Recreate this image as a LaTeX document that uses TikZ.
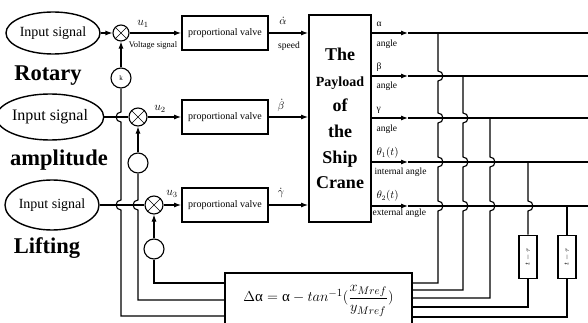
\documentclass[tikz,border=0pt]{standalone}
\usepackage{fontspec}
\setmainfont{Liberation Serif}
\usetikzlibrary{positioning,arrows.meta,shapes.geometric}

\begin{document}
\begin{tikzpicture}[x=1pt,y=-1pt,line width=1.1pt,>={Latex[length=7pt,width=5pt]},
    InSignal/.style={draw, ellipse, line width=1.4pt, inner sep=0pt},
    SumJoint/.style={draw, circle, minimum size=18pt, inner sep=0pt,
      path picture={\draw[line width=0.6pt] (path picture bounding box.north west) -- (path picture bounding box.south east)
        (path picture bounding box.north east) -- (path picture bounding box.south west);}},
    Gain/.style={draw, circle, minimum size=20pt, inner sep=0pt, font=\fontsize{7}{8}\selectfont},
    Valve/.style={draw, line width=1.8pt, minimum width=86pt, minimum height=34pt, font=\fontsize{10}{12}\selectfont},
    Tag/.style={font=\fontsize{9.5}{11}\selectfont, inner sep=0pt, anchor=west},
    Delay/.style={draw, line width=1.8pt, rotate=90, minimum width=43pt, minimum height=18pt, inner sep=0pt, font=\fontsize{7}{8}\selectfont},
    Title/.style={font=\fontsize{22.5}{26}\selectfont\bfseries}]
  \useasboundingbox (0,0) rectangle (588,323);
  \clip (0,0) rectangle (588,323);

  \node[InSignal, minimum width=88pt, minimum height=42pt, font=\fontsize{14}{16}\selectfont] (in1) at (53,33) {Input signal};
  \node[InSignal, minimum width=94pt, minimum height=46pt, font=\fontsize{16}{18}\selectfont] (in2) at (50,117) {Input signal};
  \node[InSignal, minimum width=90pt, minimum height=50pt, font=\fontsize{14}{16}\selectfont] (in3) at (52,205) {Input signal};
  \node[Title] (rotary) at (48,76) {Rotary};
  \node[Title] (amplitude) at (59,160) {amplitude};
  \node[Title] (lifting) at (47,248) {Lifting};

  \node[SumJoint, minimum size=16pt] (s1) at (121,33) {};
  \node[SumJoint] (s2) at (138,117) {};
  \node[SumJoint] (s3) at (154,205) {};
  \node[Gain] (k1) at (121,78) {k};
  \node[Gain] (k2) at (138,163) {};
  \node[Gain] (k3) at (154,249) {};

  \node[Valve] (pv1) at (225,33) {proportional valve};
  \node[Valve] (pv2) at (225,117) {proportional valve};
  \node[Valve] (pv3) at (225,205) {proportional valve};

  \node[draw, line width=1.8pt, minimum width=62pt, minimum height=207pt, align=center,
    font=\fontsize{18}{25.6}\selectfont\bfseries] (crane) at (340,118.5)
    {The\\{\fontsize{14}{25.6}\selectfont Payload}\\of\\the\\Ship\\Crane};
  \node[draw, line width=1.8pt, minimum width=187pt, minimum height=56pt, font=\fontsize{15}{17}\selectfont] (dbox) at (318.5,301)
    {$\Delta\mbox{α} = \mbox{α} - tan^{-1}(\displaystyle\frac{x_{Mref}}{y_{Mref}})$};
  \node[Delay] (tau1) at (528,257) {$t-\tau$};
  \node[Delay] (tau2) at (567,257) {$t-\tau$};

  \draw[->] (in1) -- (s1);
  \draw (in2) -- (s2);
  \draw (in3) -- (s3);
  \draw[->] (s1) -- (pv1);
  \draw[->] (s2) -- (pv2);
  \draw[->] (s3) -- (pv3);
  \draw[->] (pv1) -- (pv1 -| crane.west);
  \draw[->] (pv2) -- (pv2 -| crane.west);
  \draw[->] (pv3) -- (pv3 -| crane.west);
  \draw[->] (k1) -- (s1);
  \draw[->] (k2) -- (s2);
  \draw[->] (k3) -- (s3);

  \node[font=\fontsize{12}{14}\selectfont] (u1) at (143,24) {$u_1$};
  \node[font=\fontsize{8.5}{10}\selectfont] (volt) at (153,45) {Voltage signal};
  \node[font=\fontsize{12}{14}\selectfont] (u2) at (160,109) {$u_2$};
  \node[font=\fontsize{12}{14}\selectfont] (u3) at (172,194) {$u_3$};
  \node[font=\fontsize{11}{13}\selectfont, inner sep=1pt] (da) at (283,21) {$\dot\alpha$};
  \node[font=\fontsize{9.5}{11}\selectfont] (speed) at (289,46) {speed};
  \node[font=\fontsize{11}{13}\selectfont, inner sep=1pt] (db) at (281,105) {$\dot\beta$};
  \node[font=\fontsize{11}{13}\selectfont, inner sep=1pt] (dg) at (281,193) {$\dot\gamma$};

  \foreach \n/\y in {a/33,b/76,c/118,d/162,e/206} {
    \coordinate (o\n) at (588,\y);
    \coordinate (m\n) at (408,\y);
    \draw[->] (crane.east |- o\n) -- (m\n);
    \draw (m\n) -- (o\n);
  }
  \node[Tag] (la) at (376,24) {α};
  \node[Tag] (aa) at (376,44) {angle};
  \node[Tag] (lb) at (376,67) {β};
  \node[Tag] (ab) at (376,86) {angle};
  \node[Tag] (lc) at (376,110) {γ};
  \node[Tag] (ac) at (376,129) {angle};
  \node[Tag, font=\fontsize{10.5}{12}\selectfont] (ld) at (376,153) {$\theta_1(t)$};
  \node[Tag] (ad) at (374,172) {internal angle};
  \node[Tag, font=\fontsize{10.5}{12}\selectfont] (le) at (376,196) {$\theta_2(t)$};
  \node[Tag] (ae) at (372,213) {external angle};

  \coordinate (fa) at (438,283);
  \coordinate (fb) at (463,290);
  \coordinate (fc) at (490,298);
  \coordinate (fd) at (528,307);
  \coordinate (fe) at (567,317);
  \draw (438,33) -- (438,71) arc[start angle=-90,end angle=90,radius=5] -- (438,113) arc[start angle=-90,end angle=90,radius=5]
    -- (438,157) arc[start angle=-90,end angle=90,radius=5] -- (438,201) arc[start angle=-90,end angle=90,radius=5]
    -- (fa) -- (fa -| dbox.east);
  \draw (463,76) -- (463,113) arc[start angle=-90,end angle=90,radius=5] -- (463,157) arc[start angle=-90,end angle=90,radius=5]
    -- (463,201) arc[start angle=-90,end angle=90,radius=5] -- (fb) -- (fb -| dbox.east);
  \draw (490,118) -- (490,157) arc[start angle=-90,end angle=90,radius=5] -- (490,201) arc[start angle=-90,end angle=90,radius=5]
    -- (fc) -- (fc -| dbox.east);
  \draw (528,162) -- (528,201) arc[start angle=-90,end angle=90,radius=5] -- (tau1);
  \draw (tau1) -- (fd) -- (fd -| dbox.east);
  \draw (567,206) -- (tau2);
  \draw (tau2) -- (fe) -- (fe -| dbox.east);

  \coordinate (ga) at (154,283);
  \coordinate (gb) at (138,300);
  \coordinate (gc) at (121,316);
  \draw (ga -| dbox.west) -- (ga) -- (k3);
  \draw (gb -| dbox.west) -- (gb) -- (138,210) arc[start angle=90,end angle=270,radius=5] -- (k2);
  \draw (gc -| dbox.west) -- (gc) -- (121,210) arc[start angle=90,end angle=270,radius=5]
    -- (121,122) arc[start angle=90,end angle=270,radius=5] -- (k1);
\end{tikzpicture}
\end{document}
